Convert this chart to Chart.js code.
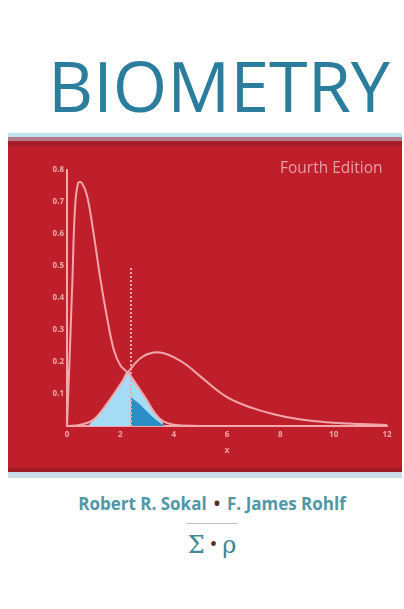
<!DOCTYPE html>
<html>
<head>
<meta charset="utf-8">
<script src="https://cdn.jsdelivr.net/npm/chart.js@4.4.0/dist/chart.umd.min.js"></script>
<style>
  html, body { margin: 0; padding: 0; background: #fff; }
  body { width: 404px; height: 609px; position: relative; overflow: hidden; font-family: "Open Sans", sans-serif; }
  .title { position: absolute; left: 48px; top: 50px; font-size: 70px; line-height: 70px; color: #2b7d9e; }
  .band { position: absolute; left: 8px; width: 394px; }
  #panel { position: absolute; left: 8px; top: 146px; width: 394px; height: 322px; background: #bf1f2b; }
  .edition { position: absolute; left: 280px; top: 156px; font-size: 15.5px; color: #e99ea4; white-space: nowrap; }
  .authors { position: absolute; left: 10px; width: 404px; top: 492px; text-align: center; font-size: 17px; font-weight: 700; color: #4f97a8; white-space: nowrap; }
  .authors .dot { color: #5a2c2c; margin: 0 7px; }
  .rule { position: absolute; left: 186px; top: 523px; width: 52px; height: 1px; background: #c9bfbf; }
  .sym { position: absolute; left: 10px; width: 404px; top: 531px; text-align: center; font-family: "DejaVu Serif", serif; font-size: 24px; color: #3f8797; }
  .sym .dot { color: #5a2c2c; font-size: 16px; margin: 0 4px; vertical-align: 3px; }
</style>
</head>
<body>
<div class="title">BIOMETRY</div>
<div class="band" style="top:133px;height:4px;background:#bfe2ee"></div>
<div class="band" style="top:137px;height:4px;background:#b67884"></div>
<div class="band" style="top:141px;height:5px;background:#a51d2a"></div>
<div id="panel"><canvas id="c" width="394" height="322"></canvas></div>
<div class="band" style="top:468px;height:4px;background:#9e1a25"></div>
<div class="band" style="top:472px;height:6px;background:#c9dbe6"></div>
<div class="edition">Fourth Edition</div>
<div class="authors">Robert R. Sokal<span class="dot">•</span>F. James Rohlf</div>
<div class="rule"></div>
<div class="sym">Σ<span class="dot">•</span>ρ</div>
<script>
// tall narrow curve
const curve1X = [0, 0.1, 0.2, 0.3, 0.42, 0.55, 0.75, 1.0, 1.25, 1.5, 1.75, 2.0, 2.3, 2.6, 3.0, 3.3, 3.6, 4.0, 5.0];
const curve1Y = [0, 0.22, 0.45, 0.68, 0.76, 0.76, 0.72, 0.6, 0.46, 0.34, 0.24, 0.19, 0.165, 0.13, 0.08, 0.04, 0.015, 0.004, 0];
// wide curve
const curve2X = [0, 0.5, 1.0, 1.5, 2.0, 2.4, 2.8, 3.2, 3.6, 4.0, 4.5, 5.0, 6.0, 7.0, 8.0, 9.0, 10.0, 11.0, 12.0];
const curve2Y = [0, 0.004, 0.02, 0.07, 0.13, 0.18, 0.215, 0.229, 0.228, 0.215, 0.19, 0.155, 0.09, 0.055, 0.032, 0.018, 0.01, 0.006, 0.003];
// shaded regions
const lightX = [0.8, 1.0, 1.5, 2.0, 2.25, 2.4, 2.7, 3.0, 3.3, 3.6];
const lightY = [0, 0.02, 0.07, 0.13, 0.172, 0.16, 0.12, 0.08, 0.04, 0.01];
const darkX = [2.4, 2.7, 3.0, 3.3, 3.6];
const darkY = [0.09, 0.07, 0.045, 0.022, 0.004];
// critical value marker
const cutX = [2.4, 2.4];
const cutY = [0, 0.5];
const xTicks = [0, 2, 4, 6, 8, 10, 12];
const yTicks = [0.1, 0.2, 0.3, 0.4, 0.5, 0.6, 0.7, 0.8];

const pts = (xs, ys) => xs.map((x, i) => ({ x: x, y: ys[i] }));
const pink = '#f2a7aa';

new Chart(document.getElementById('c'), {
  type: 'line',
  data: {
    datasets: [
      { data: pts(curve1X, curve1Y), borderColor: pink, borderWidth: 2, tension: 0.4, pointRadius: 0, order: 0 },
      { data: pts(curve2X, curve2Y), borderColor: pink, borderWidth: 2, tension: 0.4, pointRadius: 0, order: 0 },
      { data: pts(cutX, cutY), borderColor: pink, borderWidth: 2, borderDash: [2, 2], pointRadius: 0, order: 0 },
      { data: pts(darkX, darkY), borderWidth: 0, backgroundColor: '#2b8ec6', fill: 'origin', tension: 0.3, pointRadius: 0, order: 1 },
      { data: pts(lightX, lightY), borderWidth: 0, backgroundColor: '#a5dbf5', fill: 'origin', tension: 0.3, pointRadius: 0, order: 2 }
    ]
  },
  options: {
    responsive: false,
    animation: false,
    layout: { padding: { top: 24, right: 15, left: 0, bottom: 12 } },
    plugins: { legend: { display: false }, tooltip: { enabled: false } },
    scales: {
      x: {
        type: 'linear', min: 0, max: 12,
        grid: { display: false, drawTicks: false },
        border: { color: pink, width: 2 },
        afterBuildTicks: (s) => { s.ticks = xTicks.map(v => ({ value: v })); },
        ticks: { color: pink, font: { size: 8, weight: 'bold', family: 'Open Sans' }, padding: 4 },
        title: { display: true, text: 'x', color: pink, font: { size: 9, weight: 'bold' }, padding: 0 },
        afterFit: (s) => { s.height = 30; }
      },
      y: {
        min: 0, max: 0.8,
        grid: { display: false, drawTicks: false },
        border: { color: pink, width: 2 },
        afterBuildTicks: (s) => { s.ticks = yTicks.map(v => ({ value: v })); },
        ticks: { color: pink, font: { size: 8, weight: 'bold', family: 'Open Sans' }, padding: 3, callback: (v) => v.toFixed(1) },
        afterFit: (s) => { s.width = 59; }
      }
    }
  }
});
</script>
</body>
</html>
